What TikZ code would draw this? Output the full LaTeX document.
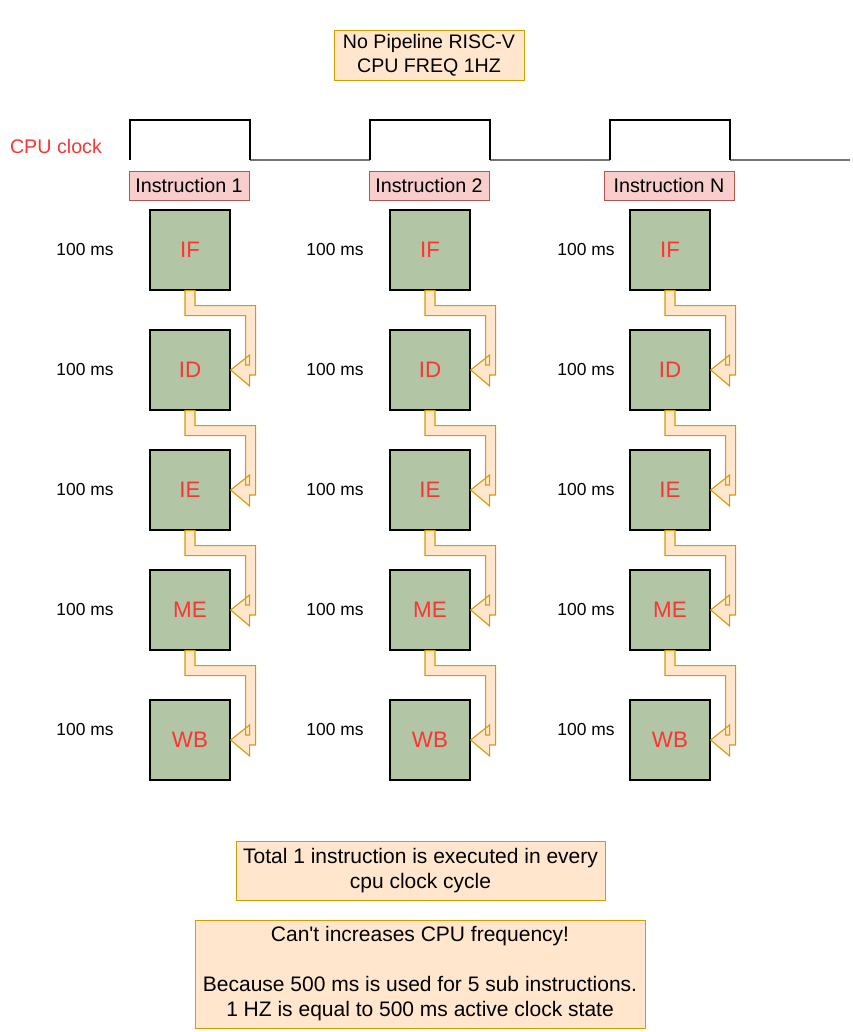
\documentclass[tikz,border=0pt]{standalone}
\usepackage{fontspec}
\setmainfont{Liberation Sans}
\usetikzlibrary{calc}
\definecolor{stagefill}{HTML}{B2C6A5}
\definecolor{stagetext}{HTML}{FF3333}
\definecolor{instrfill}{HTML}{F8CECC}
\definecolor{instrdraw}{HTML}{B85450}
\definecolor{notefill}{HTML}{FFE6CC}
\definecolor{notedraw}{HTML}{D79B00}
\begin{document}
\begin{tikzpicture}
[x=1pt,y=-1pt,
stage/.style={rectangle,draw=black,line width=1.2pt,fill=stagefill,minimum size=80pt,inner sep=0pt,text=stagetext,font=\fontsize{22.4}{26}\selectfont},
instr/.style={rectangle,draw=instrdraw,line width=0.9pt,fill=instrfill,minimum height=29pt,inner sep=0pt,font=\fontsize{19.7}{24}\selectfont},
note/.style={rectangle,draw=notedraw,line width=0.9pt,fill=notefill,inner sep=0pt,align=center,font=\fontsize{21}{25}\selectfont},
plain/.style={draw=none,fill=none,font=\fontsize{17.4}{21}\selectfont},
flow/.style={draw=notedraw,fill=notefill,line width=1.1pt,line join=miter},
clockhigh/.style={draw=black,line width=1.1pt},
clocklow/.style={draw=black!55,line width=1.4pt}
]
\useasboundingbox (0,0) rectangle (852,1032);

\node[note,minimum width=190pt,minimum height=50pt,font=\fontsize{19.6}{24}\selectfont] (title) at (429,55){No Pipeline RISC-V\\CPU FREQ 1HZ};

% cpu clock
\node[plain,text=stagetext,font=\fontsize{19.7}{24}\selectfont] (clk) at (56,146){CPU clock};
\draw[clocklow] (250,160) -- (370,160);
\draw[clocklow] (490,160) -- (610,160);
\draw[clocklow] (730,160) -- (850,160);
\draw[clockhigh] (130,160) -- (130,120) -- (250,120) -- (250,160);
\draw[clockhigh] (370,160) -- (370,120) -- (490,120) -- (490,160);
\draw[clockhigh] (610,160) -- (610,120) -- (730,120) -- (730,160);

% one column for each instruction
\foreach \c/\cx/\lx/\iw/\itext in {1/190/85/120/Instruction 1,2/430/335/120/Instruction 2,3/670/586/130/Instruction N}{
  \node[instr,minimum width=\iw pt] (instr\c) at (\cx-1,185.5){\itext};
  \foreach \s/\cy/\ly in {IF/250/250,ID/370/370,IE/490/490,ME/610/610,WB/740/730}{
    \node[stage] (\s\c) at (\cx,\cy){\s};
    \node[plain] (time\s\c) at (\lx,\ly){100 ms};
  }
  \foreach \a/\b in {IF/ID,ID/IE,IE/ME,ME/WB}{
    \draw[flow] let \p1=(\a\c.south), \p2=(\b\c.east) in
      (\x1-5pt,\y1) -- (\x1-5pt,\y1-25pt) -- (\x2+15pt,\y1-25pt) -- (\x2+15pt,\y2+5pt)
      -- (\x2+19pt,\y2+5pt) -- (\x2+19pt,\y2+15pt) -- (\x2,\y2) -- (\x2+19pt,\y2-16pt)
      -- (\x2+19pt,\y2-5pt) -- (\x2+25pt,\y2-5pt) -- (\x2+25pt,\y1-15pt)
      -- (\x1+5pt,\y1-15pt) -- (\x1+5pt,\y1) -- cycle;
  }
}

\node[note,minimum width=369pt,minimum height=59pt] (total) at (420.5,870.5){Total 1 instruction is executed in every\\cpu clock cycle};
\node[note,minimum width=450pt,minimum height=108pt] (reason) at (420,974){Can\textquotesingle t increases CPU frequency!\\[25pt]Because 500 ms is used for 5 sub instructions.\\1 HZ is equal to 500 ms active clock state};
\end{tikzpicture}
\end{document}
